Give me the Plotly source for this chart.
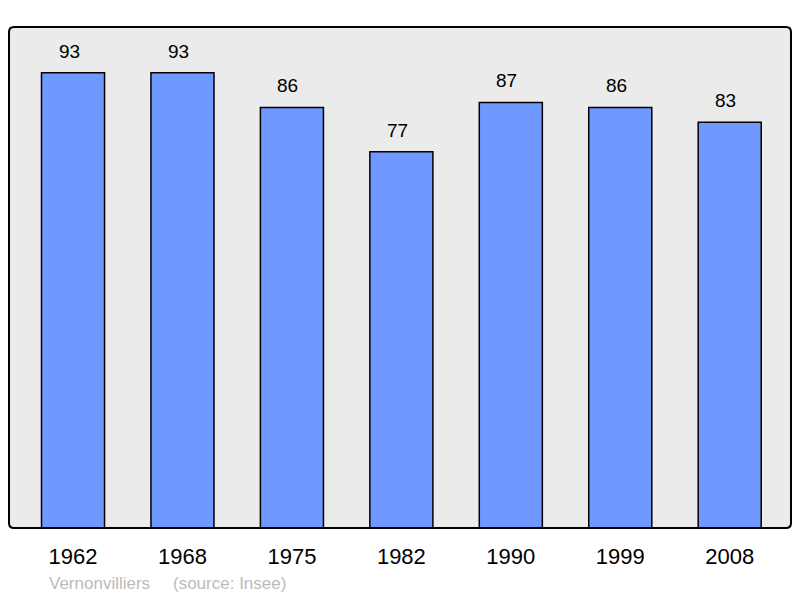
import plotly.graph_objects as go

years = ["1962", "1968", "1975", "1982", "1990", "1999", "2008"]
population = [93, 93, 86, 77, 87, 86, 83]
commune = "Vernonvilliers"
source = "(source: Insee)"

W, H = 800, 598
L, R, T, B = 9, 9, 27, 70
pw, ph = W - L - R, H - T - B

xs = list(range(len(years)))

fig = go.Figure()
fig.add_trace(go.Bar(
    x=xs, y=population, width=0.576,
    marker=dict(color="#7099FF", line=dict(color="#000000", width=1.5)),
    hoverinfo="skip",
))

for i, v in zip(xs, population):
    fig.add_annotation(x=i, y=v, text=str(v), showarrow=False, yanchor="bottom",
                       yshift=9, xshift=-4,
                       font=dict(family="Liberation Sans, Arial", size=19, color="#000"))

fy = -(583 - 528) / ph
fig.add_annotation(xref="paper", yref="paper", x=(48 - L) / pw, y=fy,
                   text=commune, showarrow=False, xanchor="left", yanchor="middle",
                   xshift=-1, font=dict(family="Liberation Sans, Arial", size=17, color="#bbbbbb"))
fig.add_annotation(xref="paper", yref="paper", x=(172 - L) / pw, y=fy,
                   text=source, showarrow=False, xanchor="left", yanchor="middle",
                   xshift=-1, font=dict(family="Liberation Sans, Arial", size=17, color="#bbbbbb"))

rx, ry = 5 / pw, 5 / ph
path = (f"M {rx},0 L {1-rx},0 Q 1,0 1,{ry} L 1,{1-ry} Q 1,1 {1-rx},1 "
        f"L {rx},1 Q 0,1 0,{1-ry} L 0,{ry} Q 0,0 {rx},0 Z")
fig.add_shape(type="path", xref="paper", yref="paper", path=path,
              line=dict(color="#000000", width=2), layer="above")

fig.update_layout(
    width=W, height=H,
    margin=dict(l=L, r=R, t=T, b=B),
    paper_bgcolor="#ffffff", plot_bgcolor="#ebebeb",
    showlegend=False,
    xaxis=dict(range=[-0.585, 6.56], tickvals=xs, ticktext=years,
               showgrid=False, zeroline=False, showline=False,
               ticks="outside", ticklen=9, tickcolor="rgba(0,0,0,0)",
               tickfont=dict(family="Liberation Sans, Arial", size=22, color="#000")),
    yaxis=dict(range=[0.7, 102.3], showgrid=False, zeroline=False, showline=False,
               showticklabels=False),
)

fig.write_html("out.html", config={"displayModeBar": False},
               post_script="document.body.style.margin='0';document.body.style.padding='0';")
